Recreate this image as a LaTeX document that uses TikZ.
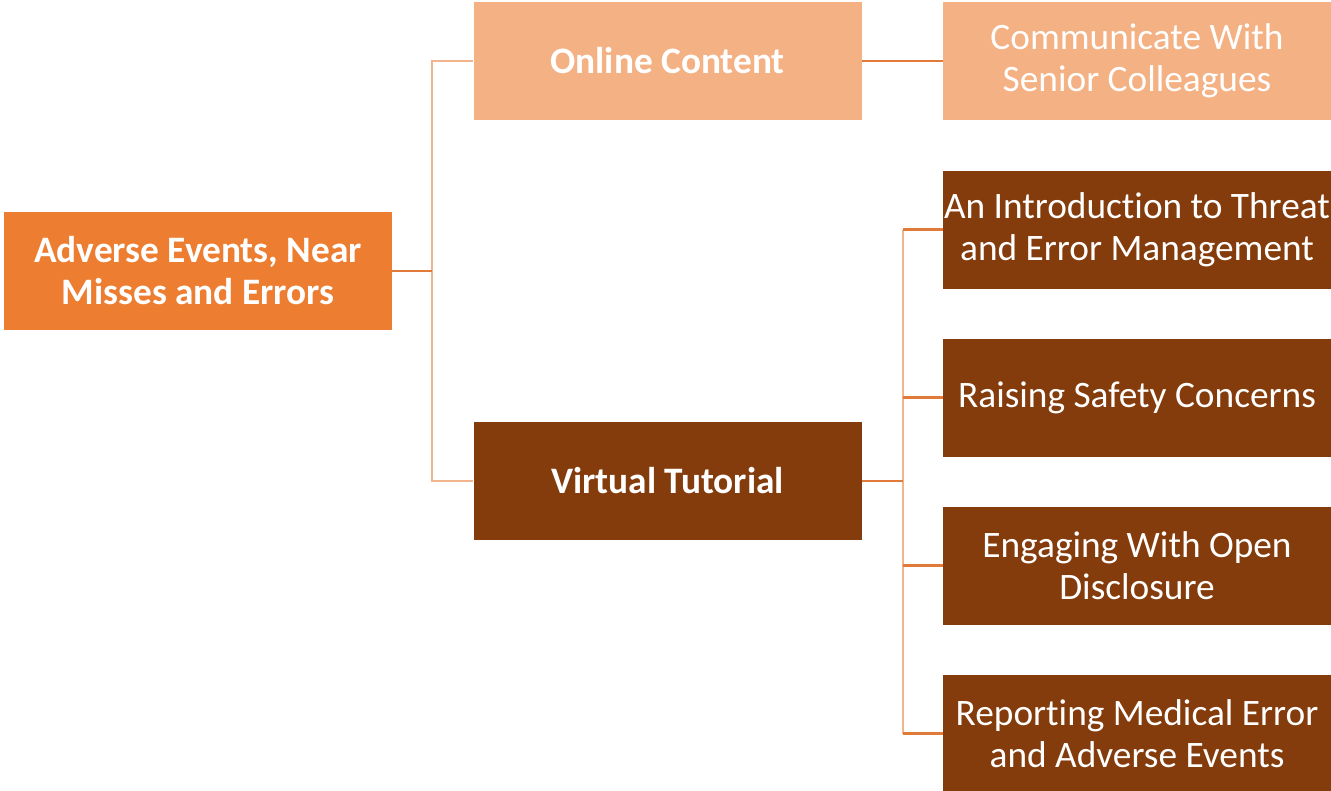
\documentclass[tikz,border=0pt]{standalone}
\usepackage{fontspec}
\setmainfont[Ligatures=CommonOff]{Carlito}
\definecolor{rootc}{HTML}{ED7D31}
\definecolor{lightc}{HTML}{F4B183}
\definecolor{brownc}{HTML}{843C0C}
\definecolor{vlinec}{HTML}{F2B48A}
\definecolor{hlinec}{HTML}{E27A3A}
\begin{document}
\begin{tikzpicture}[x=0.75pt,y=-0.75pt,
  box/.style={rectangle, inner sep=0pt, minimum width=291pt, minimum height=88.5pt, text=white, align=center, font=\fontsize{28}{31.5}\selectfont},
  bbox/.style={box, font=\fontsize{28}{31.5}\selectfont\bfseries},
  vline/.style={draw=vlinec, line width=1.6pt},
  hline/.style={draw=hlinec, line width=1.6pt}]
\useasboundingbox (0,0) rectangle (1331,790);
\node[bbox, fill=rootc] (root) at (198,271) {Adverse Events, Near\\Misses and Errors};
\node[bbox, fill=lightc] (online) at (667.5,61) {Online Content};
\node[bbox, fill=brownc] (virtual) at (667.5,481) {Virtual Tutorial};
\node[box, fill=lightc] (comm) at (1137,61) {Communicate With\\Senior Colleagues};
\node[box, fill=brownc] (intro) at (1137,229.5) {An Introduction to Threat\\and Error Management};
\node[box, fill=brownc] (raise) at (1137,397.5) {Raising Safety Concerns};
\node[box, fill=brownc] (engage) at (1137,565.5) {Engaging With Open\\Disclosure};
\node[box, fill=brownc] (report) at (1137,733.5) {Reporting Medical Error\\and Adverse Events};
\coordinate (t1) at (432,271);
\coordinate (t2) at (903,481);
% root trunk
\draw[vline] (online.west) -| (t1) |- (virtual.west);
\draw[hline] (root.east) -- (t1);
\draw[hline] (online.east) -- (comm.west);
% virtual trunk
\draw[vline] (intro.west -| t2) -- (report.west -| t2);
\draw[hline] (virtual.east) -- (t2);
\foreach \n in {intro,raise,engage,report}{
  \draw[hline] (\n.west -| t2) -- (\n.west);
}
\end{tikzpicture}
\end{document}
